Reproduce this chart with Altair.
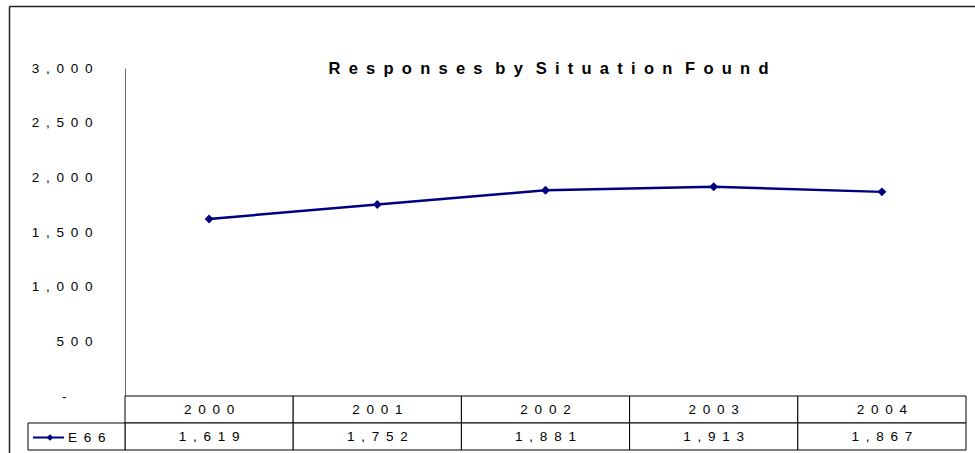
import altair as alt
import pandas as pd

# Yearly responses for situation code E66
years = ["2000", "2001", "2002", "2003", "2004"]
responses = [1619, 1752, 1881, 1913, 1867]
series_name = "E66"
chart_title = "Responses by Situation Found"
y_ticks = [0, 500, 1000, 1500, 2000, 2500, 3000]

GAP = "\u2002"          # en space, gives the wide letter spacing
FONT = "Liberation Sans"
TEXT_SIZE = 13.5
NAVY = "#000080"
LINE = "#000000"


def spaced(text):
    return (GAP + " ").join(GAP.join(word) for word in text.split(" "))


df = pd.DataFrame({"year": years, "responses": responses})
title_df = pd.DataFrame({"title": [spaced(chart_title)]})
series_df = pd.DataFrame({"series": [spaced(series_name)]})
one = pd.DataFrame({"k": [0]})

W, H = 841, 328
ROW = 27
ROW1 = (H, H + ROW)
ROW2 = (H + ROW, H + 2 * ROW)
BOTTOM = 57

x_enc = alt.X(
    "year:N",
    sort=years,
    scale=alt.Scale(type="band", paddingInner=0, paddingOuter=0),
    axis=None,
)

y_enc = alt.Y(
    "responses:Q",
    scale=alt.Scale(domain=[0, 3000], nice=False),
    axis=alt.Axis(
        values=y_ticks,
        title=None,
        grid=False,
        ticks=False,
        domainColor="#666666",
        domainWidth=1,
        # the zero label is a dash set further left, as in accounting format
        labelPadding={"condition": {"test": "datum.value === 0", "value": 59}, "value": 33},
        labelFont=FONT,
        labelFontSize=TEXT_SIZE,
        labelColor="black",
        labelExpr=(
            "datum.value == 0 ? '-' : "
            f"join(split(format(datum.value, ','), ''), '{GAP}')"
        ),
    ),
)

# outer frame of the chart object: top and left edges
frame_top = alt.Chart(one).mark_rule(color="#222222", strokeWidth=1.5).encode(
    x=alt.value(-115.5), x2=alt.value(W + 9), y=alt.value(-61.5)
)
frame_left = alt.Chart(one).mark_rule(color="#222222", strokeWidth=1.5).encode(
    x=alt.value(-115.5), y=alt.value(-61.5), y2=alt.value(H + BOTTOM)
)

title = alt.Chart(title_df).mark_text(
    font=FONT, fontSize=16.5, fontWeight="bold", baseline="middle", color="black"
).encode(x=alt.value(W / 2 + 3), y=alt.value(1), text="title:N")

# data table under the plot
year_cells = alt.Chart(df).mark_rect(fill="white", stroke=LINE, strokeWidth=1).encode(
    x=x_enc, y=alt.value(ROW1[0]), y2=alt.value(ROW1[1])
)
value_cells = alt.Chart(df).mark_rect(fill="white", stroke=LINE, strokeWidth=1).encode(
    x=x_enc, y=alt.value(ROW2[0]), y2=alt.value(ROW2[1])
)
year_text = alt.Chart(df).transform_calculate(
    label=f"join(split(datum.year, ''), '{GAP}')"
).mark_text(font=FONT, fontSize=TEXT_SIZE, baseline="middle", color="black").encode(
    x=x_enc, y=alt.value((ROW1[0] + ROW1[1]) / 2), text="label:N"
)
value_text = alt.Chart(df).transform_calculate(
    label=f"join(split(format(datum.responses, ','), ''), '{GAP}')"
).mark_text(font=FONT, fontSize=TEXT_SIZE, baseline="middle", color="black").encode(
    x=x_enc, y=alt.value((ROW2[0] + ROW2[1]) / 2), text="label:N"
)

# series key cell at the start of the value row
key_cell = alt.Chart(one).mark_rect(fill="white", stroke=LINE, strokeWidth=1).encode(
    x=alt.value(-97), x2=alt.value(0), y=alt.value(ROW2[0]), y2=alt.value(ROW2[1])
)
key_mid = (ROW2[0] + ROW2[1]) / 2 + 1
key_line = alt.Chart(one).mark_rule(color=NAVY, strokeWidth=2).encode(
    x=alt.value(-92), x2=alt.value(-61), y=alt.value(key_mid)
)
key_dot = alt.Chart(one).mark_point(shape="diamond", filled=True, color=NAVY, size=45, opacity=1).encode(
    x=alt.value(-75), y=alt.value(key_mid)
)
key_text = alt.Chart(series_df).mark_text(
    font=FONT, fontSize=TEXT_SIZE, align="left", baseline="middle", color="black"
).encode(x=alt.value(-57), y=alt.value(key_mid), text="series:N")

line = alt.Chart(df).mark_line(color=NAVY, strokeWidth=2.5).encode(x=x_enc, y=y_enc)
points = alt.Chart(df).mark_point(shape="diamond", filled=True, color=NAVY, size=80, opacity=1).encode(
    x=x_enc, y=y_enc
)

chart = (
    alt.layer(
        frame_top, frame_left, title, year_cells, value_cells, year_text, value_text,
        key_cell, key_line, key_dot, key_text, line, points,
    )
    .properties(
        width=W,
        height=H,
        padding={"left": 125, "top": 68, "right": 9, "bottom": BOTTOM},
        autosize=alt.AutoSizeParams(type="none"),
        background="white",
    )
    .configure_view(stroke=None)
)

chart.save("out.html", embed_options={"renderer": "svg", "actions": False})
